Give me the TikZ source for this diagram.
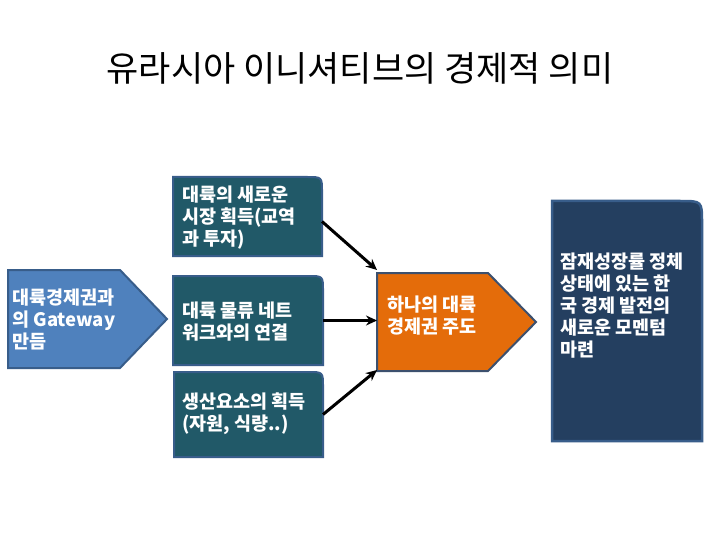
\documentclass[tikz,border=0pt]{standalone}
\usepackage{fontspec}
\setmainfont{Noto Sans CJK KR}
\usetikzlibrary{arrows.meta}
\definecolor{blueA}{RGB}{79,129,189}
\definecolor{blueB}{RGB}{56,93,138}
\definecolor{tealbox}{RGB}{33,89,104}
\definecolor{orangeA}{RGB}{228,108,10}
\definecolor{orangeB}{RGB}{60,80,110}
\definecolor{navybox}{RGB}{36,63,96}
\begin{document}
\begin{tikzpicture}[x=1pt,y=-1pt,
  area/.style={draw=none,fill=none,inner sep=0pt,outer sep=0pt},
  txt/.style={anchor=west,align=left,text=white,inner sep=0pt,
    font=\bfseries\fontsize{18.5}{22}\selectfont},
  arr/.style={line width=3pt,-{Stealth[length=11pt,width=10pt]}},
  tealstyle/.style={fill=tealbox,draw=blueB,line width=2pt}]
\useasboundingbox (0,0) rectangle (720,540);
\fill[white] (0,0) rectangle (720,540);

\node[inner sep=0pt,font=\fontsize{35}{40}\selectfont] (title) at (360,68) {유라시아 이니셔티브의 경제적 의미};

% frames
\node[area,minimum width=159pt,minimum height=98pt] (left) at (87.5,319) {};
\node[area,minimum width=149pt,minimum height=79pt] (top) at (247.5,216.5) {};
\node[area,minimum width=150pt,minimum height=89pt] (mid) at (248,320.5) {};
\node[area,minimum width=149pt,minimum height=85pt] (bot) at (248.5,414.5) {};
\node[area,minimum width=159pt,minimum height=98pt] (core) at (456.5,322) {};
\node[area,minimum width=150pt,minimum height=240pt] (right) at (627,321) {};

% left pentagon
\draw[fill=blueA,draw=blueB,line width=2pt,line join=miter]
  (left.north west) -- ([xshift=-47pt]left.north east) -- (left.east)
  -- ([xshift=-47pt]left.south east) -- (left.south west) -- cycle;
% orange pentagon
\draw[fill=orangeA,draw=orangeB,line width=2pt,line join=miter]
  (core.north west) -- ([xshift=-48pt]core.north east) -- (core.east)
  -- ([xshift=-48pt]core.south east) -- (core.south west) -- cycle;
% teal boxes with one rounded corner
\foreach \b in {top,mid,bot}{
  \draw[tealstyle]
    (\b.south west) -- (\b.north west) -- ([xshift=-15pt]\b.north east)
    .. controls (\b.north east) .. ([yshift=-15pt]\b.north east)
    -- (\b.south east) -- cycle;
}
% right box
\draw[fill=navybox,draw=blueB,line width=2.5pt]
  (right.south west) -- (right.north west) -- ([xshift=-22pt]right.north east)
  .. controls (right.north east) .. ([yshift=-22pt]right.north east)
  -- (right.south east) -- cycle;

% texts
\node[txt] (lefttxt) at (12,319) {대륙경제권과\\의 Gateway\\만듬};
\node[txt] (toptxt) at (182,218) {대륙의 새로운\\시장 획득(교역\\과 투자)};
\node[txt] (midtxt) at (182,322) {대륙 물류 네트\\워크와의 연결};
\node[txt] (bottxt) at (182,414) {생산요소의 획득\\(자원, 식량..)};
\node[txt] (coretxt) at (387,316) {하나의 대륙\\경제권 주도};
\node[txt] (righttxt) at (560,306) {잠재성장률 정체\\상태에 있는 한\\국 경제 발전의\\새로운 모멘텀\\마련};

% connectors
\draw[arr] ([yshift=-5pt]top.east) -- ([yshift=3pt]core.north west);
\draw[arr] (mid.east) -- (mid.east -| core.west);
\draw[arr] (bot.east) -- ([yshift=1pt]core.south west);
\end{tikzpicture}
\end{document}
